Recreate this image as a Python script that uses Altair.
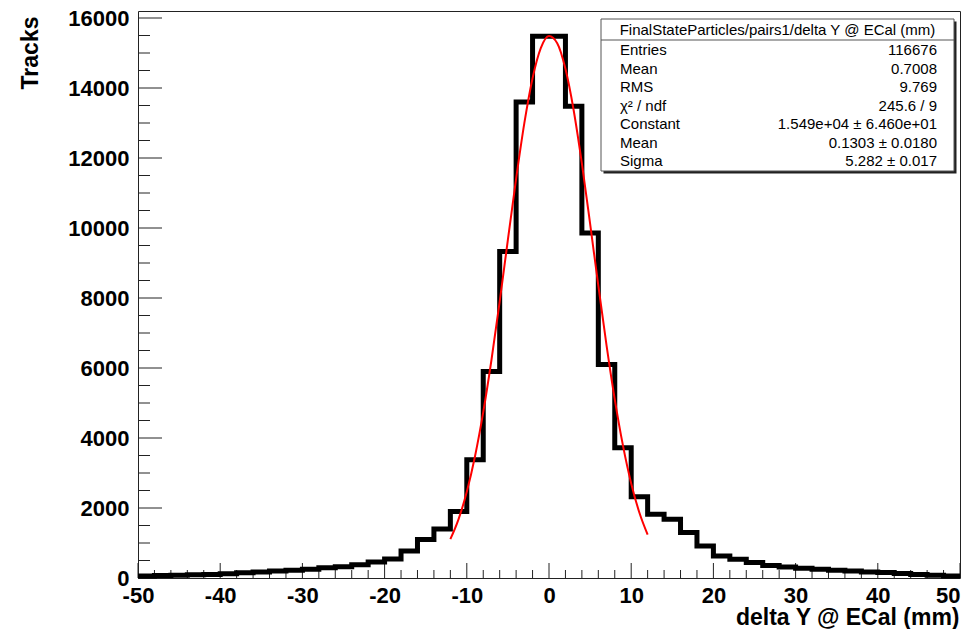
import altair as alt
import pandas as pd

# ---- data ----
bin_low = list(range(-50, 50, 2))
counts = [60, 70, 80, 90, 100, 120, 150, 170, 200, 220,
          250, 290, 320, 380, 460, 540, 770, 1100, 1400, 1900,
          3380, 5900, 9330, 13600, 15480, 15480, 13480, 9860, 6100, 3720,
          2320, 1820, 1680, 1300, 915, 630, 535, 440, 360, 315,
          280, 250, 220, 200, 170, 160, 130, 100, 80, 60]

fit_x = [-12, -11, -10, -9, -8, -7, -6, -5, -4, -3, -2, -1, 0,
         1, 2, 3, 4, 5, 6, 7, 8, 9, 10, 11, 12]
fit_y = [1109, 1683, 2463, 3478, 4738, 6229, 7898, 9666, 11410, 12995, 14280, 15140, 15485,
         15281, 14548, 13365, 11844, 10126, 8354, 6649, 5105, 3782, 2703, 1864, 1240]

x_major = [-50, -40, -30, -20, -10, 0, 10, 20, 30, 40, 50]
x_minor = [v for v in range(-50, 51, 2) if v % 10 != 0]
y_major = [0, 2000, 4000, 6000, 8000, 10000, 12000, 14000, 16000]
y_minor = [v for v in range(0, 16001, 500) if v % 2000 != 0]

stats_title = "FinalStateParticles/pairs1/delta Y @ ECal (mm)"
stat_names = ["Entries", "Mean", "RMS", "\u03c7\u00b2 / ndf", "Constant", "Mean", "Sigma"]
stat_values = ["116676", "0.7008", "9.769", "245.6 / 9",
               "1.549e+04 \u00b1 6.460e+01", "0.1303 \u00b1 0.0180", "5.282 \u00b1 0.017"]

FONT = "Liberation Sans"
W, H = 822, 567
PLAIN = "(datum.value < 0 ? '-' : '') + abs(datum.value)"

x_scale = alt.Scale(domain=[-50, 50], nice=False, zero=False)
y_scale = alt.Scale(domain=[0, 16200], nice=False)

hist_df = pd.DataFrame({"x": bin_low + [50], "y": counts + [counts[-1]]})
fit_df = pd.DataFrame({"x": fit_x, "y": fit_y})
one = pd.DataFrame({"k": [0]})

x_axis = alt.Axis(values=x_major, ticks=False, tickSize=0, domain=False, grid=False,
                  labelExpr=PLAIN,
                  labelAlign={"condition": {"test": "datum.value >= 50", "value": "right"},
                              "value": "center"},
                  labelFont=FONT, labelFontSize=22, labelFontWeight="bold", labelColor="black",
                  labelPadding=7, labelFlush=False, labelOverlap=False,
                  title="delta Y @ ECal (mm)", titleFont=FONT, titleFontSize=23,
                  titleFontWeight="bold", titleColor="black",
                  titleX=821, titleY=46, titleAlign="right", titleBaseline="alphabetic")
y_axis = alt.Axis(values=y_major, ticks=False, tickSize=0, domain=False, grid=False,
                  labelExpr=PLAIN,
                  labelFont=FONT, labelFontSize=22, labelFontWeight="bold", labelColor="black",
                  labelPadding=9, labelFlush=False, labelOverlap=False,
                  title="Tracks", titleFont=FONT, titleFontSize=23, titleFontWeight="bold",
                  titleColor="black", titleAngle=270, titleX=-101, titleY=5,
                  titleAlign="right", titleBaseline="alphabetic")


def xtick(vals, length):
    return alt.Chart(pd.DataFrame({"x": vals})).mark_rule(color="#222", strokeWidth=1).encode(
        x=alt.X("x:Q", scale=x_scale, axis=x_axis),
        y=alt.value(H), y2=alt.value(H - length))


def ytick(vals, length):
    return alt.Chart(pd.DataFrame({"y": vals})).mark_rule(color="#222", strokeWidth=1).encode(
        y=alt.Y("y:Q", scale=y_scale, axis=y_axis),
        x=alt.value(0), x2=alt.value(length))


hist = alt.Chart(hist_df).mark_line(interpolate="step-after", color="black",
                                    strokeWidth=5, strokeJoin="miter").encode(
    x=alt.X("x:Q", scale=x_scale, axis=x_axis),
    y=alt.Y("y:Q", scale=y_scale, axis=y_axis))

fit = alt.Chart(fit_df).mark_line(interpolate="monotone", color="#ff0000", strokeWidth=2).encode(
    x=alt.X("x:Q", scale=x_scale, axis=x_axis),
    y=alt.Y("y:Q", scale=y_scale, axis=y_axis))

# stats box
bx0, bx1, by0, by1 = 463, 816, 8, 160
shadow = alt.Chart(one).mark_rect(color="#222").encode(
    x=alt.value(bx0 + 2.5), x2=alt.value(bx1 + 2.5), y=alt.value(by0 + 2.5), y2=alt.value(by1 + 2.5))
box = alt.Chart(one).mark_rect(fill="white", stroke="#555", strokeWidth=1).encode(
    x=alt.value(bx0), x2=alt.value(bx1), y=alt.value(by0), y2=alt.value(by1))
sep = alt.Chart(one).mark_rule(color="#555", strokeWidth=1).encode(
    x=alt.value(bx0), x2=alt.value(bx1), y=alt.value(29))
head = alt.Chart(one).mark_text(text=stats_title, font=FONT, fontSize=15, color="black",
                                align="center", baseline="middle").encode(
    x=alt.value((bx0 + bx1) / 2), y=alt.value(19))
names = alt.Chart(one).mark_text(text=stat_names, font=FONT, fontSize=15, color="black",
                                 align="left", baseline="top", lineHeight=18.5).encode(
    x=alt.value(482), y=alt.value(32))
vals = alt.Chart(one).mark_text(text=stat_values, font=FONT, fontSize=15, color="black",
                                align="right", baseline="top", lineHeight=18.5).encode(
    x=alt.value(799), y=alt.value(32))

chart = alt.layer(
    xtick(x_minor, 8), xtick(x_major, 15), ytick(y_minor, 12), ytick(y_major, 24),
    hist, fit, shadow, box, sep, head, names, vals
).properties(
    width=W, height=H,
    autosize=alt.AutoSizeParams(type="none"),
    padding={"left": 130, "top": 3, "right": 1, "bottom": 51},
    background="white",
).configure_view(stroke="#222", strokeWidth=1)

chart.save("out.html", embed_options={"renderer": "svg", "actions": False})
